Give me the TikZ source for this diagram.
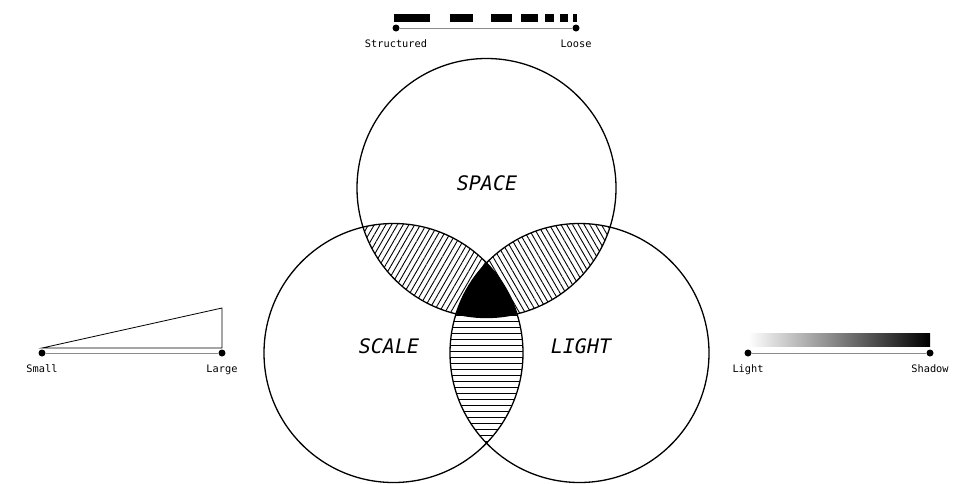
\documentclass[tikz,border=0pt]{standalone}
\usepackage{fontspec}
\setmonofont{DejaVu Sans Mono}
\usepackage{tikz}
\usetikzlibrary{patterns.meta,positioning}

\begin{document}
\begin{tikzpicture}[
  x=1pt, y=-1pt,
  node distance=3pt,
  ring/.style={draw, line width=1.3pt},
  dot/.style={circle, fill=black, inner sep=0pt, minimum size=7pt},
  rail/.style={draw=black!45, line width=0.8pt},
  tag/.style={font=\ttfamily\fontsize{10.3}{12}\selectfont, inner sep=1pt},
  title/.style={font=\ttfamily\itshape\fontsize{20}{24}\selectfont},
  hatch/.style={pattern={Lines[angle=#1, distance=5pt, line width=0.9pt]}}
]
  \useasboundingbox (0,0) rectangle (958,483);
  \def\r{129.5}
  \coordinate (space) at (486.5,188);
  \coordinate (scale) at (393.5,353);
  \coordinate (light) at (579.5,353);

  % overlaps
  \begin{scope}
    \clip (space) circle (\r);
    \fill[hatch=60] (scale) circle (\r);
  \end{scope}
  \begin{scope}
    \clip (space) circle (\r);
    \fill[hatch=-60] (light) circle (\r);
  \end{scope}
  \begin{scope}
    \clip (scale) circle (\r);
    \fill[pattern={Lines[angle=0, distance=6pt, line width=0.9pt]}] (light) circle (\r);
  \end{scope}
  \begin{scope}
    \clip (space) circle (\r);
    \clip (scale) circle (\r);
    \fill[black] (light) circle (\r);
  \end{scope}

  \draw[ring] (space) circle (\r);
  \draw[ring] (scale) circle (\r);
  \draw[ring] (light) circle (\r);

  \node[title] (spacelbl) at (487,183) {SPACE};
  \node[title] (scalelbl) at (389,346) {SCALE};
  \node[title] (lightlbl) at (581,346) {LIGHT};

  % structured -- loose
  \foreach \a/\b in {394/430, 450/473, 491/512, 521/538, 545/554, 560/568, 573/577}
    \fill (\a,13.5) rectangle (\b,21.5);
  \node[dot] (structured) at (396,28) {};
  \node[dot] (loose) at (576,28) {};
  \draw[rail] (structured) -- (loose);
  \node[tag, below=7pt of structured] (structuredlbl) {Structured};
  \node[tag, below=7pt of loose] (looselbl) {Loose};

  % small -- large
  \draw[line width=0.8pt] (42,348) -- (222,308) -- (222,348) -- cycle;
  \node[dot] (small) at (42,353) {};
  \node[dot] (large) at (222,353) {};
  \draw[rail] (small) -- (large);
  \node[tag, below=7pt of small] (smalllbl) {Small};
  \node[tag, below=7pt of large] (largelbl) {Large};

  % light -- shadow
  \shade[left color=white, right color=black, middle color=black!50] (748,333) rectangle (930,346);
  \node[dot] (lightend) at (748,353) {};
  \node[dot] (shadow) at (930,353) {};
  \draw[rail] (lightend) -- (shadow);
  \node[tag, below=7pt of lightend] (lightendlbl) {Light};
  \node[tag, below=7pt of shadow] (shadowlbl) {Shadow};
\end{tikzpicture}
\end{document}
